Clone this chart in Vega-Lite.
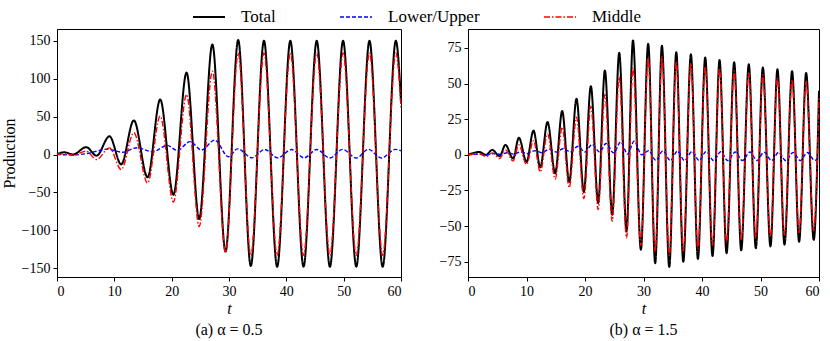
{
  "$schema": "https://vega.github.io/schema/vega-lite/v6.json",
  "background": "white",
  "padding": {"left": 0, "top": 0, "right": 0, "bottom": 0},
  "config": {
    "view": {"stroke": "black", "strokeWidth": 1},
    "font": "Liberation Serif",
    "axis": {"grid": false, "domainColor": "black", "tickColor": "black", "labelColor": "black", "titleColor": "black", "labelFont": "Liberation Serif", "titleFont": "Liberation Serif", "labelFontSize": 14, "titleFontSize": 16, "titleFontWeight": "normal", "tickSize": 4, "labelPadding": 3},
    "legend": {"labelFont": "Liberation Serif", "labelFontSize": 16, "labelColor": "black"},
    "title": {"font": "Liberation Serif", "fontSize": 16, "fontWeight": "normal", "color": "black"},
    "concat": {"spacing": 32}
  },
  "data": {
    "values": "p,s,t,v\na,Total,0,0.5\na,Total,1.3,3\na,Total,2.8,0\na,Total,5.1,9.7\na,Total,6.9,-1.5\na,Total,9.15,24\na,Total,11.2,-13\na,Total,13.4,45\na,Total,15.8,-30\na,Total,18.0,72.5\na,Total,20.3,-53\na,Total,22.6,108\na,Total,24.8,-85\na,Total,27.1,145\na,Total,29.4,-128\na,Total,31.6,151\na,Total,33.8,-147\na,Total,36.1,150\na,Total,38.4,-148\na,Total,40.7,150\na,Total,43.0,-148\na,Total,45.3,150\na,Total,47.6,-148\na,Total,49.9,150\na,Total,52.2,-148\na,Total,54.5,150\na,Total,56.8,-148\na,Total,59.1,150\na,Total,60,70\na,Middle,0,0\na,Middle,1.3,1\na,Middle,2.8,-1\na,Middle,5.1,4.4\na,Middle,6.9,-6.6\na,Middle,9.15,8.8\na,Middle,11.2,-19.8\na,Middle,13.4,28.7\na,Middle,15.8,-37.5\na,Middle,18.0,50.7\na,Middle,20.3,-62.6\na,Middle,22.6,79\na,Middle,24.8,-95\na,Middle,27.1,110\na,Middle,29.4,-129\na,Middle,31.6,134\na,Middle,33.8,-133\na,Middle,36.1,134\na,Middle,38.4,-133\na,Middle,40.7,134\na,Middle,43.0,-133\na,Middle,45.3,134\na,Middle,47.6,-133\na,Middle,49.9,134\na,Middle,52.2,-133\na,Middle,54.5,134\na,Middle,56.8,-133\na,Middle,59.1,134\na,Middle,60,62\na,Lower/Upper,0,0\na,Lower/Upper,2.8,-0.5\na,Lower/Upper,5,1\na,Lower/Upper,8.8,7\na,Lower/Upper,11.4,3\na,Lower/Upper,14.0,9\na,Lower/Upper,16.7,3.5\na,Lower/Upper,19.2,12\na,Lower/Upper,21.0,5.3\na,Lower/Upper,23.2,17\na,Lower/Upper,25.2,6\na,Lower/Upper,27.5,19\na,Lower/Upper,29.9,-3\na,Lower/Upper,31.5,7.5\na,Lower/Upper,34.0,-4.4\na,Lower/Upper,36.2,6.6\na,Lower/Upper,38.5,-4.4\na,Lower/Upper,40.9,6.6\na,Lower/Upper,43.1,-4.4\na,Lower/Upper,45.3,6.6\na,Lower/Upper,47.6,-4.6\na,Lower/Upper,49.8,6.8\na,Lower/Upper,52.2,-4.6\na,Lower/Upper,54.3,6.8\na,Lower/Upper,56.6,-4.6\na,Lower/Upper,59.0,6.8\na,Lower/Upper,60,5\nb,Total,0,0\nb,Total,1.9,2\nb,Total,3.1,0\nb,Total,4.15,3.5\nb,Total,5.4,-1\nb,Total,6.4,7\nb,Total,7.7,-2.6\nb,Total,8.7,12\nb,Total,10.0,-5\nb,Total,11.2,17\nb,Total,12.35,-8.7\nb,Total,13.6,23\nb,Total,14.9,-13\nb,Total,16.1,30.7\nb,Total,17.3,-19\nb,Total,18.55,39.3\nb,Total,19.8,-26\nb,Total,21.0,48.2\nb,Total,22.25,-33.7\nb,Total,23.4,59.2\nb,Total,24.65,-42\nb,Total,25.85,71.6\nb,Total,27.1,-53.6\nb,Total,28.2,80.3\nb,Total,29.55,-66.5\nb,Total,30.8,78\nb,Total,32.0,-76\nb,Total,33.15,76.5\nb,Total,34.4,-78.6\nb,Total,35.6,72\nb,Total,36.8,-75\nb,Total,38.1,70.5\nb,Total,39.3,-73\nb,Total,40.55,68.3\nb,Total,41.8,-71\nb,Total,43.0,66.5\nb,Total,44.2,-69\nb,Total,45.5,65\nb,Total,46.7,-67\nb,Total,48.0,63.5\nb,Total,49.2,-65.5\nb,Total,50.4,61.3\nb,Total,51.7,-64.3\nb,Total,52.9,60\nb,Total,54.1,-63\nb,Total,55.4,58.6\nb,Total,56.6,-61\nb,Total,57.8,57.5\nb,Total,59.1,-59.6\nb,Total,60,45\nb,Middle,0,0\nb,Middle,1.9,0.8\nb,Middle,3.1,-1.2\nb,Middle,4.15,1.4\nb,Middle,5.4,-2.6\nb,Middle,6.4,3.5\nb,Middle,7.7,-4.4\nb,Middle,8.7,7\nb,Middle,10.0,-6.8\nb,Middle,11.2,10\nb,Middle,12.35,-12\nb,Middle,13.6,14.7\nb,Middle,14.9,-17\nb,Middle,16.1,19.4\nb,Middle,17.3,-23\nb,Middle,18.55,26.5\nb,Middle,19.8,-30.7\nb,Middle,21.0,34.2\nb,Middle,22.25,-38.4\nb,Middle,23.4,42.4\nb,Middle,24.65,-46.6\nb,Middle,25.85,54.6\nb,Middle,27.1,-58.3\nb,Middle,28.2,61\nb,Middle,29.55,-63.5\nb,Middle,30.8,68\nb,Middle,32.0,-68\nb,Middle,33.15,69\nb,Middle,34.4,-70.5\nb,Middle,35.6,65.5\nb,Middle,36.8,-67.5\nb,Middle,38.1,64.4\nb,Middle,39.3,-66\nb,Middle,40.55,62\nb,Middle,41.8,-63.5\nb,Middle,43.0,60.9\nb,Middle,44.2,-61.5\nb,Middle,45.5,59\nb,Middle,46.7,-60\nb,Middle,48.0,57.4\nb,Middle,49.2,-58.5\nb,Middle,50.4,56.2\nb,Middle,51.7,-57.4\nb,Middle,52.9,54\nb,Middle,54.1,-56.2\nb,Middle,55.4,52.7\nb,Middle,56.6,-54.5\nb,Middle,57.8,51.5\nb,Middle,59.1,-53\nb,Middle,60,40\nb,Lower/Upper,0,0\nb,Lower/Upper,2.0,0.5\nb,Lower/Upper,3.3,0\nb,Lower/Upper,4.4,1\nb,Lower/Upper,5.6,0.3\nb,Lower/Upper,6.7,1.5\nb,Lower/Upper,7.9,0.6\nb,Lower/Upper,9.0,2.2\nb,Lower/Upper,10.2,1\nb,Lower/Upper,11.5,3\nb,Lower/Upper,12.6,1.5\nb,Lower/Upper,13.9,4\nb,Lower/Upper,15.1,2\nb,Lower/Upper,16.3,4.5\nb,Lower/Upper,17.5,2\nb,Lower/Upper,18.8,6\nb,Lower/Upper,20.0,2\nb,Lower/Upper,21.2,7.3\nb,Lower/Upper,22.5,2\nb,Lower/Upper,23.6,8\nb,Lower/Upper,24.9,1.4\nb,Lower/Upper,26.1,9\nb,Lower/Upper,27.3,0.5\nb,Lower/Upper,28.4,9.6\nb,Lower/Upper,29.7,0\nb,Lower/Upper,30.9,3\nb,Lower/Upper,32.1,-3.8\nb,Lower/Upper,33.3,2.8\nb,Lower/Upper,34.6,-4\nb,Lower/Upper,35.8,2.6\nb,Lower/Upper,37.0,-4\nb,Lower/Upper,38.3,2.4\nb,Lower/Upper,39.5,-4\nb,Lower/Upper,40.7,2.3\nb,Lower/Upper,42.0,-4\nb,Lower/Upper,43.2,2.2\nb,Lower/Upper,44.4,-4\nb,Lower/Upper,45.7,2\nb,Lower/Upper,46.9,-4\nb,Lower/Upper,48.2,2\nb,Lower/Upper,49.4,-4\nb,Lower/Upper,50.6,1.9\nb,Lower/Upper,51.9,-4\nb,Lower/Upper,53.1,1.8\nb,Lower/Upper,54.3,-4\nb,Lower/Upper,55.6,1.7\nb,Lower/Upper,56.8,-4\nb,Lower/Upper,58.0,1.6\nb,Lower/Upper,59.3,-4\nb,Lower/Upper,60,-1",
    "format": {"type": "csv", "parse": {"t": "number", "v": "number"}}
  },
  "hconcat": [
    {
      "width": 344,
      "height": 248,
      "title": {"text": "(a) α = 0.5", "orient": "bottom", "offset": 6, "anchor": "middle"},
      "transform": [{"filter": "datum.p == 'a'"}],
      "encoding": {
        "x": {"field": "t", "type": "quantitative", "scale": {"domain": [0, 60], "nice": false, "zero": false}, "axis": {"values": [0, 10, 20, 30, 40, 50, 60], "title": "t", "titleFontStyle": "italic", "titlePadding": 2}},
        "y": {"field": "v", "type": "quantitative", "scale": {"domain": [-161.5, 165.5], "nice": false, "zero": false}, "axis": {"values": [-150, -100, -50, 0, 50, 100, 150], "title": "Production", "titlePadding": 4}},
        "color": {"field": "s", "type": "nominal", "title": null, "scale": {"domain": ["Total", "Lower/Upper", "Middle"], "range": ["#000000", "#0000ff", "#ff0000"]}, "legend": {"orient": "none", "legendX": 135, "legendY": -29, "direction": "horizontal", "symbolType": "stroke", "symbolSize": 1024, "labelOffset": 15, "columnPadding": 61, "labelFontSize": 17, "labelFont": "Liberation Serif", "labelColor": "black"}},
        "strokeDash": {"field": "s", "type": "nominal", "title": null, "scale": {"domain": ["Total", "Lower/Upper", "Middle"], "range": [[1, 0], [4, 2], [6, 2, 1.5, 2]]}},
        "strokeWidth": {"field": "s", "type": "nominal", "title": null, "scale": {"type": "ordinal", "domain": ["Total", "Lower/Upper", "Middle"], "range": [2, 1.4, 1.4]}}
      },
      "layer": [
        {"transform": [{"filter": "datum.s == 'Total'"}], "mark": {"type": "line", "interpolate": "monotone"}},
        {"transform": [{"filter": "datum.s == 'Lower/Upper'"}], "mark": {"type": "line", "interpolate": "monotone"}},
        {"transform": [{"filter": "datum.s == 'Middle'"}], "mark": {"type": "line", "interpolate": "monotone"}}
      ]
    },
    {
      "width": 351,
      "height": 248,
      "title": {"text": "(b) α = 1.5", "orient": "bottom", "offset": 6, "anchor": "middle"},
      "transform": [{"filter": "datum.p == 'b'"}],
      "encoding": {
        "x": {"field": "t", "type": "quantitative", "scale": {"domain": [0, 60], "nice": false, "zero": false}, "axis": {"values": [0, 10, 20, 30, 40, 50, 60], "title": "t", "titleFontStyle": "italic", "titlePadding": 2}},
        "y": {"field": "v", "type": "quantitative", "scale": {"domain": [-85.7, 88.3], "nice": false, "zero": false}, "axis": {"values": [-75, -50, -25, 0, 25, 50, 75], "title": null}},
        "color": {"field": "s", "type": "nominal", "title": null, "scale": {"domain": ["Total", "Lower/Upper", "Middle"], "range": ["#000000", "#0000ff", "#ff0000"]}},
        "strokeDash": {"field": "s", "type": "nominal", "title": null, "scale": {"domain": ["Total", "Lower/Upper", "Middle"], "range": [[1, 0], [4, 2], [6, 2, 1.5, 2]]}},
        "strokeWidth": {"field": "s", "type": "nominal", "title": null, "scale": {"type": "ordinal", "domain": ["Total", "Lower/Upper", "Middle"], "range": [2, 1.4, 1.4]}}
      },
      "layer": [
        {"transform": [{"filter": "datum.s == 'Total'"}], "mark": {"type": "line", "interpolate": "monotone"}},
        {"transform": [{"filter": "datum.s == 'Lower/Upper'"}], "mark": {"type": "line", "interpolate": "monotone"}},
        {"transform": [{"filter": "datum.s == 'Middle'"}], "mark": {"type": "line", "interpolate": "monotone"}}
      ]
    }
  ],
  "resolve": {"scale": {"x": "independent", "y": "independent"}}
}
